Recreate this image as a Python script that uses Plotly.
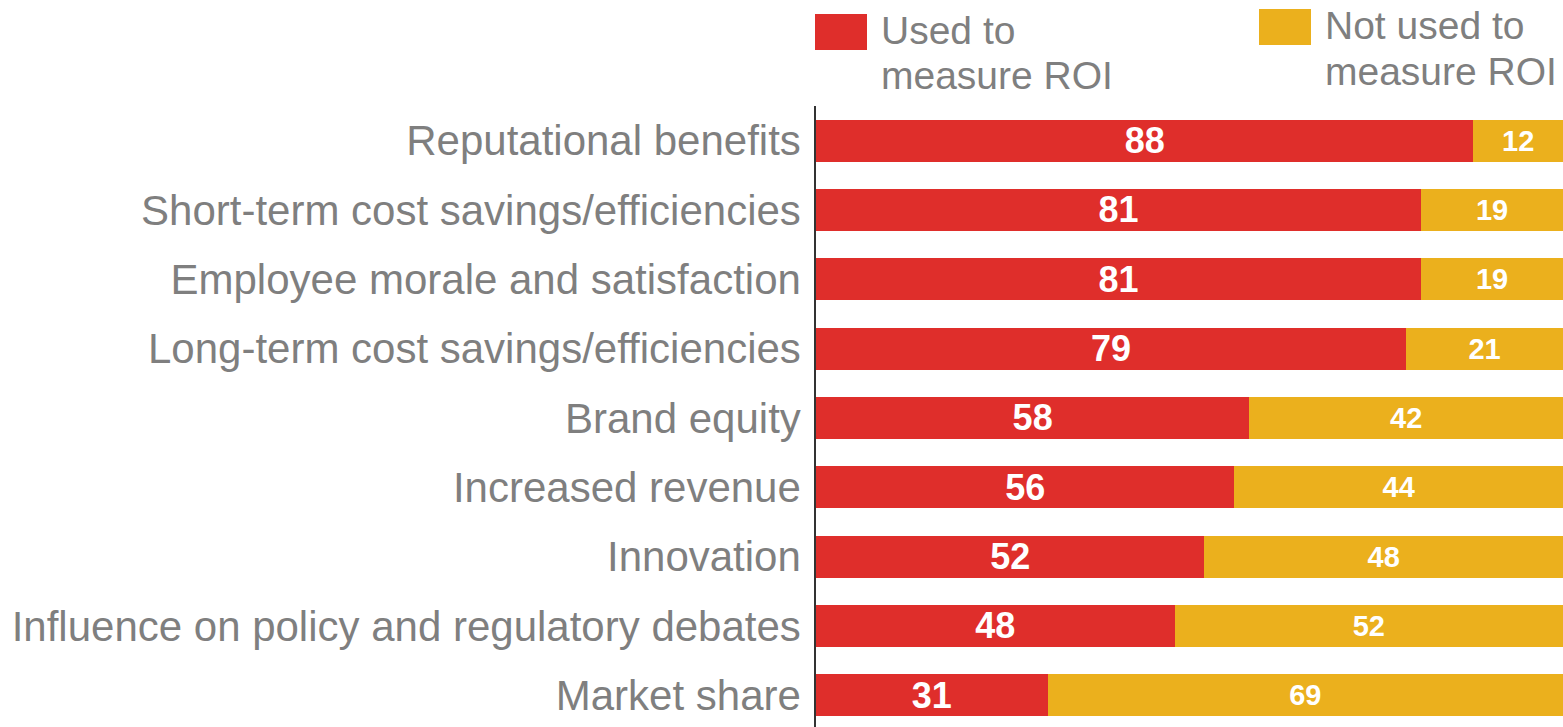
import plotly.graph_objects as go

categories = [
    "Reputational benefits",
    "Short-term cost savings/efficiencies",
    "Employee morale and satisfaction",
    "Long-term cost savings/efficiencies",
    "Brand equity",
    "Increased revenue",
    "Innovation",
    "Influence on policy and regulatory debates",
    "Market share",
]
used = [88, 81, 81, 79, 58, 56, 52, 48, 31]
not_used = [12, 19, 19, 21, 42, 44, 48, 52, 69]

RED = "#DF2E2B"
YELLOW = "#EBB01D"
GRAY = "#7F7F7F"
FONT = "Liberation Sans, Arial"

fig = go.Figure()
fig.add_trace(go.Bar(
    y=categories, x=used, orientation="h", name="Used to measure ROI",
    marker=dict(color=RED, line=dict(width=0)),
    text=used, textposition="inside", insidetextanchor="middle",
    constraintext="none", textangle=0,
    textfont=dict(family=FONT, size=36, color="white", weight="bold"),
))
fig.add_trace(go.Bar(
    y=categories, x=not_used, orientation="h", name="Not used to measure ROI",
    marker=dict(color=YELLOW, line=dict(width=0)),
    text=not_used, textposition="inside", insidetextanchor="middle",
    constraintext="none", textangle=0,
    textfont=dict(family=FONT, size=29, color="white", weight="bold"),
))

fig.update_layout(
    barmode="stack",
    bargap=0.394,
    width=1563, height=727,
    margin=dict(l=816, r=0, t=106, b=0),
    paper_bgcolor="white", plot_bgcolor="white",
    showlegend=False,
    font=dict(family=FONT, color=GRAY),
)
fig.update_xaxes(range=[0, 100], visible=False, fixedrange=True)
fig.update_yaxes(
    range=[8.46, -0.5],
    showline=True, linecolor="#333333", linewidth=1.5,
    showgrid=False, zeroline=False, ticks="",
    ticklabelstandoff=5,
    tickfont=dict(family=FONT, size=42, color=GRAY),
)

# custom legend: large swatches with two-line labels above the plot
legend_items = [
    (RED, 0, ["Used to", "measure ROI"], [76, 31]),
    (YELLOW, 444, ["Not used to", "measure ROI"], [81, 35]),
]
for color, dx, lines, ys in legend_items:
    fig.add_shape(
        type="rect", xref="paper", yref="paper",
        xsizemode="pixel", ysizemode="pixel",
        xanchor=0, yanchor=1,
        x0=dx - 1, x1=dx + 51, y0=ys[0] - 20, y1=ys[0] + 16,
        fillcolor=color, line=dict(width=0),
    )
    for txt, yy in zip(lines, ys):
        fig.add_annotation(
            text=txt, xref="paper", yref="paper", x=0, y=1,
            xanchor="left", yanchor="middle", showarrow=False,
            xshift=dx + 63, yshift=yy,
            font=dict(family=FONT, size=39, color=GRAY),
        )

fig.write_html(
    "out.html",
    config={"displayModeBar": False},
    post_script="document.body.style.margin='0';document.body.style.overflow='hidden';",
)
